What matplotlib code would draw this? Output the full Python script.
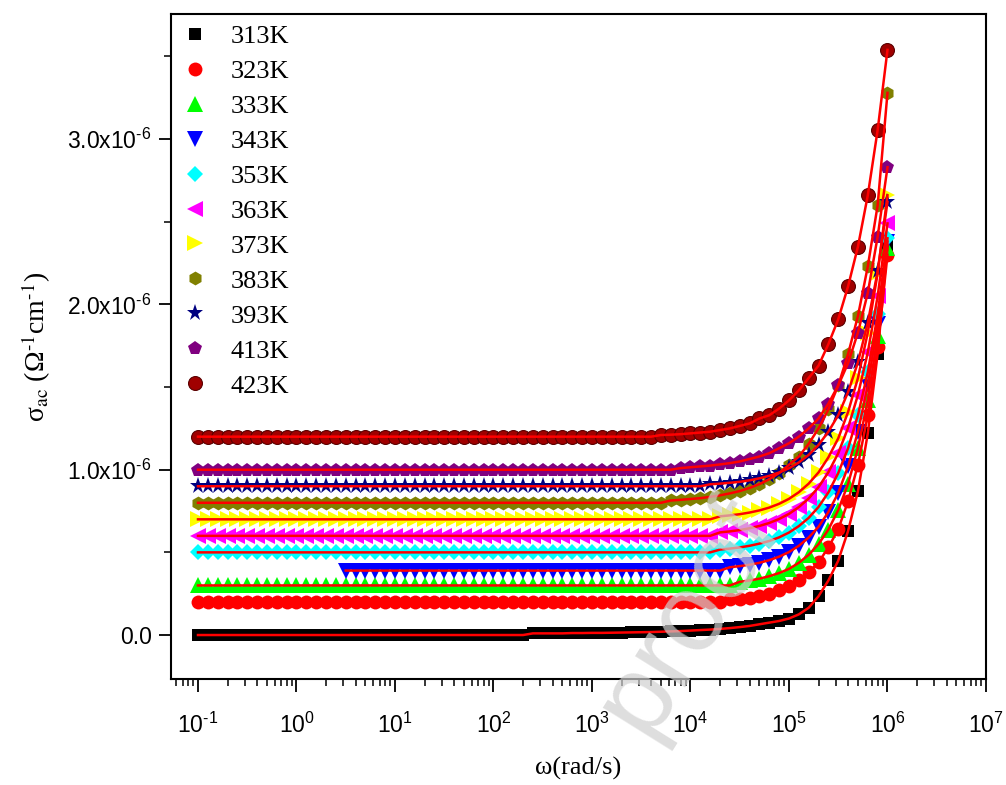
import numpy as np
import matplotlib
matplotlib.use('Agg')
import matplotlib.pyplot as plt
from matplotlib.ticker import FixedLocator, FuncFormatter, LogLocator, NullFormatter

plt.rcParams['mathtext.fontset'] = 'custom'
plt.rcParams['mathtext.rm'] = 'Liberation Sans'
plt.rcParams['mathtext.it'] = 'Liberation Sans:italic'
plt.rcParams['font.family'] = ['Liberation Sans', 'DejaVu Sans']

# log10 of angular frequency (rad/s), measurement grid
log_omega = [-1.0, -0.9, -0.8, -0.7, -0.6, -0.5, -0.4, -0.3, -0.2, -0.1,
             0.0, 0.1, 0.2, 0.3, 0.4, 0.5, 0.6, 0.7, 0.8, 0.9,
             1.0, 1.1, 1.2, 1.3, 1.4, 1.5, 1.6, 1.7, 1.8, 1.9,
             2.0, 2.1, 2.2, 2.3, 2.4, 2.5, 2.6, 2.7, 2.8, 2.9,
             3.0, 3.1, 3.2, 3.3, 3.4, 3.5, 3.6, 3.7, 3.8, 3.9,
             4.0, 4.1, 4.2, 4.3, 4.4, 4.5, 4.6, 4.7, 4.8, 4.9,
             5.0, 5.1, 5.2, 5.3, 5.4, 5.5, 5.6, 5.7, 5.8, 5.9, 6.0]

temps = ['313K', '323K', '333K', '343K', '353K', '363K', '373K', '383K', '393K', '413K', '423K']

# sigma_ac in units of 1e-6 (Ohm^-1 cm^-1): low-frequency plateau + high-frequency tail
plateau = [0.0, 0.20, 0.30, 0.39, 0.50, 0.60, 0.70, 0.80, 0.90, 1.00, 1.20]
start_index = [0, 0, 0, 15, 0, 0, 0, 0, 0, 0, 0]

tail_313 = [0.01, 0.01, 0.01, 0.01, 0.012, 0.012, 0.013, 0.013, 0.014, 0.015, 0.016, 0.017,
            0.018, 0.02, 0.022, 0.024, 0.027, 0.03, 0.033, 0.037, 0.042, 0.048, 0.055, 0.065,
            0.075, 0.085, 0.10, 0.125, 0.165, 0.235, 0.33, 0.45, 0.63, 0.87, 1.22, 1.70, 2.36]
tail_323 = [0.215, 0.22, 0.227, 0.237, 0.25, 0.27, 0.294, 0.33, 0.38, 0.44, 0.53, 0.64,
            0.81, 1.03, 1.33, 1.74, 2.30]
tail_333 = [0.322, 0.33, 0.341, 0.356, 0.375, 0.40, 0.437, 0.485, 0.55, 0.638, 0.756,
            0.915, 1.13, 1.42, 1.81, 2.34]
tail_343 = [0.41, 0.417, 0.425, 0.437, 0.453, 0.474, 0.502, 0.54, 0.59, 0.655, 0.744,
            0.86, 1.02, 1.23, 1.51, 1.88, 2.38]
tail_353 = [0.517, 0.523, 0.53, 0.54, 0.553, 0.569, 0.591, 0.62, 0.659, 0.709, 0.775,
            0.863, 0.98, 1.13, 1.33, 1.59, 1.94, 2.40]
tail_363 = [0.621, 0.627, 0.635, 0.646, 0.66, 0.678, 0.702, 0.733, 0.774, 0.826, 0.895,
            0.985, 1.10, 1.254, 1.453, 1.71, 2.05, 2.49]
tail_373 = [0.718, 0.724, 0.731, 0.741, 0.754, 0.771, 0.794, 0.824, 0.864, 0.916, 0.984,
            1.075, 1.19, 1.35, 1.555, 1.83, 2.19, 2.66]
tail_383 = [0.814, 0.818, 0.823, 0.828, 0.836, 0.845, 0.857, 0.871, 0.89, 0.913, 0.943,
            0.98, 1.03, 1.08, 1.157, 1.25, 1.365, 1.51, 1.70, 1.93, 2.23, 2.60, 3.28]
tail_393 = [0.912, 0.916, 0.921, 0.927, 0.936, 0.948, 0.963, 0.983, 1.009, 1.044, 1.09,
            1.15, 1.23, 1.33, 1.47, 1.65, 1.89, 2.20, 2.62]
tail_413 = [1.01, 1.015, 1.02, 1.025, 1.032, 1.04, 1.05, 1.065, 1.08, 1.10, 1.13, 1.16,
            1.20, 1.25, 1.31, 1.40, 1.51, 1.645, 1.83, 2.07, 2.41, 2.83]
tail_423 = [1.21, 1.212, 1.215, 1.22, 1.225, 1.23, 1.24, 1.25, 1.265, 1.28, 1.31, 1.33,
            1.37, 1.42, 1.48, 1.555, 1.63, 1.76, 1.91, 2.11, 2.35, 2.66, 3.055, 3.54]
tails = [tail_313, tail_323, tail_333, tail_343, tail_353, tail_363, tail_373,
         tail_383, tail_393, tail_413, tail_423]

markers = ['s', 'o', '^', 'v', 'D', '<', '>', 'h', '*', 'p', 'o']
colors = ['#000000', '#ff0000', '#00ff00', '#0000ff', '#00ffff', '#ff00ff', '#ffff00',
          '#808000', '#000080', '#800080', '#a00000']
msizes = [9, 10, 11, 11, 8.5, 11, 11, 10, 12.5, 10.5, 10]

fig = plt.figure(figsize=(10.06, 7.85), dpi=100)
ax = fig.add_axes([171 / 1006, 1 - 679 / 785, (986 - 171) / 1006, (679 - 14) / 785])

omega_all = np.power(10.0, np.array(log_omega))
series = []
for i, t in enumerate(temps):
    s0 = start_index[i]
    n = len(log_omega) - s0
    y = np.array([plateau[i]] * (n - len(tails[i])) + tails[i]) * 1e-6
    series.append((omega_all[s0:], y))

for i, t in enumerate(temps):
    x, y = series[i]
    if i == 10:
        kw = dict(markeredgecolor='#5a0000', markeredgewidth=0.8)
    else:
        kw = dict(markeredgewidth=0)
    ax.plot(x, y, linestyle='none', marker=markers[i], color=colors[i],
            markersize=msizes[i], label=t, zorder=2 + i * 0.01, **kw)

for i, t in enumerate(temps):
    x, y = series[i]
    ax.plot(x, y, '-', color='#ff0000', lw=1.8, zorder=3)

ax.set_xscale('log')
ax.set_xlim(10 ** -1.274, 1e7)
ax.set_ylim(-0.266e-6, 3.757e-6)

ax.xaxis.set_major_locator(FixedLocator([1e-1, 1e0, 1e1, 1e2, 1e3, 1e4, 1e5, 1e6, 1e7]))
ax.xaxis.set_minor_locator(LogLocator(base=10, subs=np.arange(2, 10), numticks=20))
ax.xaxis.set_minor_formatter(NullFormatter())
ax.xaxis.set_major_formatter(FuncFormatter(
    lambda v, p: r'10$^{\text{%d}}$' % round(np.log10(v))))

ax.yaxis.set_major_locator(FixedLocator([0, 1e-6, 2e-6, 3e-6]))
ax.yaxis.set_minor_locator(FixedLocator([0.5e-6, 1.5e-6, 2.5e-6, 3.5e-6]))

def yfmt(v, p):
    if abs(v) < 1e-12:
        return '0.0'
    return r'%.1fx10$^{\text{-6}}$' % (v * 1e6)

ax.yaxis.set_major_formatter(FuncFormatter(yfmt))

ax.tick_params(axis='both', which='major', direction='out', length=9, width=1.3,
               labelsize=16.5, top=False, right=False)
ax.tick_params(axis='both', which='minor', direction='out', length=5, width=1.1,
               top=False, right=False)
ax.tick_params(axis='x', which='major', pad=15)
ax.tick_params(axis='y', which='major', pad=5)
for sp in ax.spines.values():
    sp.set_linewidth(1.5)

ax.set_xlabel('ω(rad/s)', fontsize=19, family='Liberation Serif', labelpad=14)
ax.set_ylabel(r'σ$_{\rm ac}$ (Ω$^{\text{-1}}$cm$^{\text{-1}}$)', fontsize=20,
              family='Liberation Serif', math_fontfamily='stix', labelpad=10)

leg = ax.legend(loc='upper left', bbox_to_anchor=(0.0, 1.0), frameon=False,
                prop={'family': 'Liberation Serif', 'size': 19},
                handlelength=1.0, handletextpad=0.85, labelspacing=0.435,
                borderaxespad=0.2, borderpad=0.2, numpoints=1)

fig.text(0.685, 0.215, 'proof', fontsize=80, rotation=58, color='#d0d0d0', alpha=0.7,
         ha='center', va='center', family='Liberation Sans', zorder=10)

fig.savefig('out.png', dpi=100)
